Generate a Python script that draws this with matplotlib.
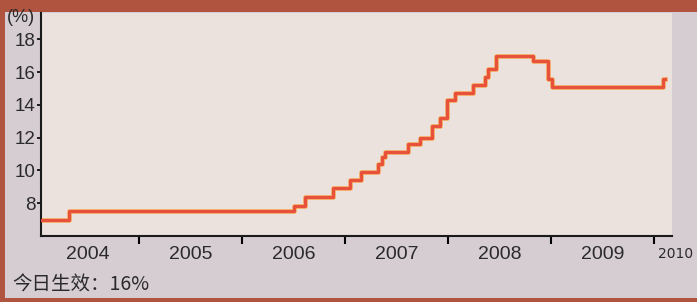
import matplotlib.pyplot as plt
import matplotlib.patches as patches

plt.rcParams['font.family'] = ['Liberation Sans', 'Noto Sans CJK SC', 'DejaVu Sans']

# step dates (fraction of year) and ratio (%)
dates = [2004.05, 2004.32, 2006.50, 2006.61, 2006.88, 2007.05, 2007.15, 2007.32,
         2007.36, 2007.39, 2007.61, 2007.73, 2007.84, 2007.92, 2007.99, 2008.07,
         2008.24, 2008.36, 2008.39, 2008.46, 2008.82, 2008.97, 2009.01, 2010.08,
         2010.10]
ratio = [7.0, 7.5, 7.8, 8.4, 8.9, 9.4, 9.9, 10.4,
         10.8, 11.1, 11.6, 12.0, 12.7, 13.2, 14.3, 14.7,
         15.2, 15.7, 16.2, 17.0, 16.7, 15.6, 15.1, 15.6,
         15.6]

years = ['2004', '2005', '2006', '2007', '2008', '2009']
year_ticks = [2005, 2006, 2007, 2008, 2009, 2010]
y_ticks = [8, 10, 12, 14, 16, 18]

fig = plt.figure(figsize=(6.97, 3.02), dpi=100, facecolor='#B0533F')

# paper panel behind the axes
fig.patches.append(patches.Rectangle((5 / 697, 4 / 302), 692 / 697, 286 / 302,
                                     transform=fig.transFigure, facecolor='#D6CDD2',
                                     edgecolor='none', zorder=-1))

ax = fig.add_axes([41 / 697, 66 / 302, 631 / 697, 223 / 302])
ax.set_facecolor('#EBE1DD')
ax.plot(dates, ratio, drawstyle='steps-post', color='#F4B468', lw=3.4, zorder=2)
ax.plot(dates, ratio, drawstyle='steps-post', color='#E8523A', lw=2.3, zorder=3)

ax.set_xlim(2004.05, 2010.17)
ax.set_ylim(6, 19.6)

for s in ['top', 'right']:
    ax.spines[s].set_visible(False)
for s in ['left', 'bottom']:
    ax.spines[s].set_linewidth(1.5)
    ax.spines[s].set_color('#1a1a1a')

ax.set_yticks(y_ticks)
ax.set_yticklabels([str(v) for v in y_ticks], fontsize=13.5, color='#2a2a2a')
ax.tick_params(axis='y', length=3, width=1.2, pad=1)

ax.set_xticks(year_ticks)
ax.set_xticklabels([])
ax.tick_params(axis='x', which='major', length=6, width=1.5, direction='out')
ax.set_xticks([y + 0.5 for y in range(2004, 2010)], minor=True)
ax.set_xticklabels(years, minor=True, fontsize=14, color='#2a2a2a')
ax.tick_params(axis='x', which='minor', length=0, pad=7)

# small 2010 label next to last tick
ax.text(2010.03, 4.9, '2010', fontsize=10, color='#2a2a2a', va='center', ha='left',
        family=['Liberation Sans Narrow', 'DejaVu Sans'])

fig.text(7 / 697, 1 - 17 / 302, '(%)', fontsize=13, color='#2a2a2a', va='center', ha='left')
fig.text(12 / 697, 1 - 285 / 302, '今日生效：16%', fontsize=14, color='#2a2a2a',
         va='center', ha='left', family=['Noto Sans CJK SC', 'DejaVu Sans'])

fig.savefig('out.png', dpi=100, facecolor=fig.get_facecolor())
